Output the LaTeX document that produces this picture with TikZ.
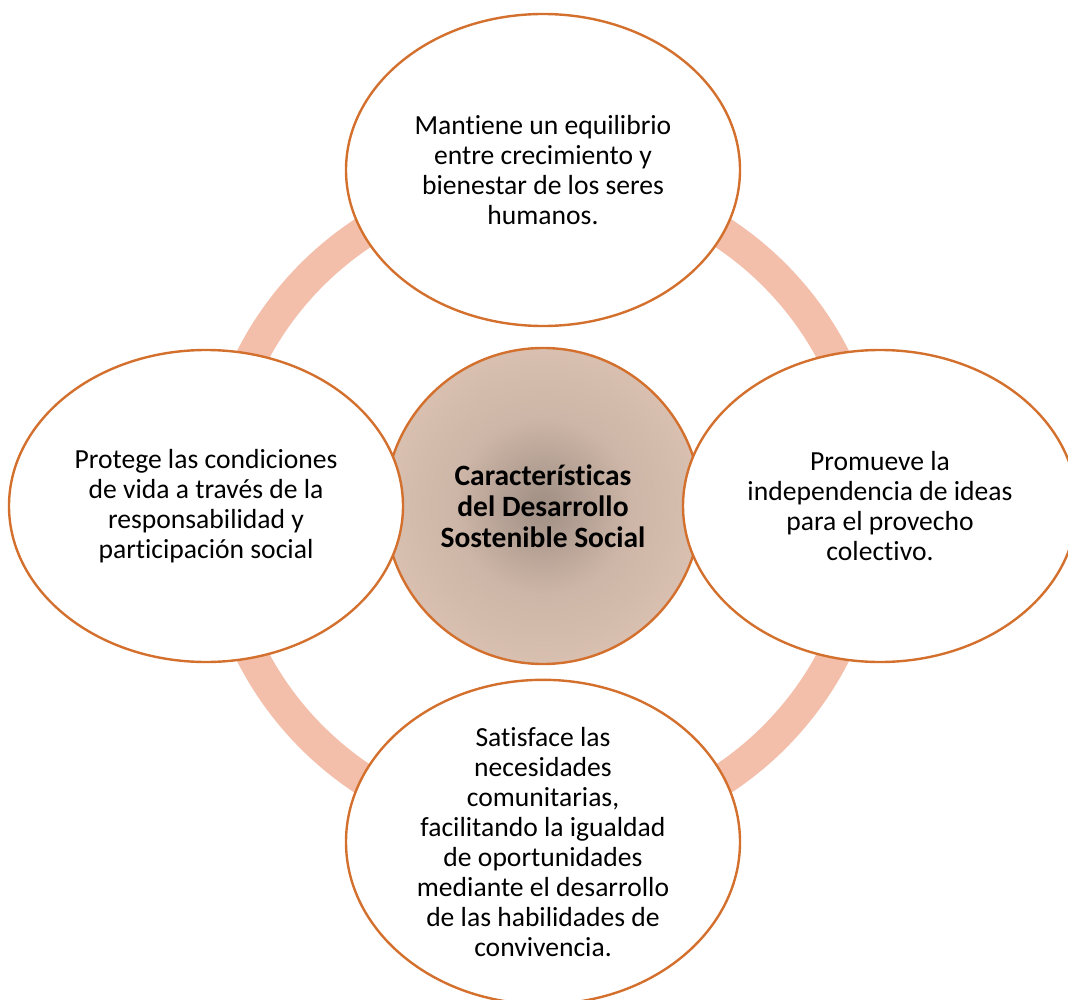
\documentclass[tikz,border=0pt]{standalone}
\usepackage{fontspec}
\setmainfont{Carlito}[Ligatures=CommonOff]
\definecolor{edgeor}{HTML}{D4702E}
\definecolor{ringc}{HTML}{F3BFAB}
\definecolor{cin}{HTML}{A08E84}
\definecolor{cmid}{HTML}{CDB6A7}
\definecolor{cout}{HTML}{E8CDBB}
\pgfdeclareradialshading{centershade}{\pgfpoint{0bp}{0bp}}{color(0bp)=(cin); color(14bp)=(cmid); color(40bp)=(cout); color(50bp)=(cout)}
\tikzset{
  petal/.style={ellipse, draw=edgeor, line width=2.4pt, fill=white, minimum width=394pt, minimum height=312pt, align=center, font=\fontsize{27.6}{30}\selectfont, inner sep=0pt},
  hub/.style={circle, draw=edgeor, line width=2.4pt, shading=centershade, minimum size=316pt, align=center, font=\fontsize{29.5}{31}\selectfont\bfseries, inner sep=0pt}
}
\usetikzlibrary{shapes.geometric}
\begin{document}
\begin{tikzpicture}[x=1pt,y=-1pt]
\useasboundingbox (0,0) rectangle (1068,1000);
\coordinate (o) at (543,506);
\draw[ringc, line width=32pt] (o) circle[radius=327];
\node[hub] (hub) at (o) {Características\\del Desarrollo\\Sostenible Social};
\node[petal] (top) at (543,170) {Mantiene un equilibrio\\entre crecimiento y\\bienestar de los seres\\humanos.};
\node[petal] (right) at (880,506) {Promueve la\\independencia de ideas\\para el provecho\\colectivo.};
\node[petal] (left) at (206,506) {Protege las condiciones\\de vida a través de la\\responsabilidad y\\participación social};
\node[petal] (bottom) at (543,842) {Satisface las\\necesidades\\comunitarias,\\facilitando la igualdad\\de oportunidades\\mediante el desarrollo\\de las habilidades de\\convivencia.};
\end{tikzpicture}
\end{document}
